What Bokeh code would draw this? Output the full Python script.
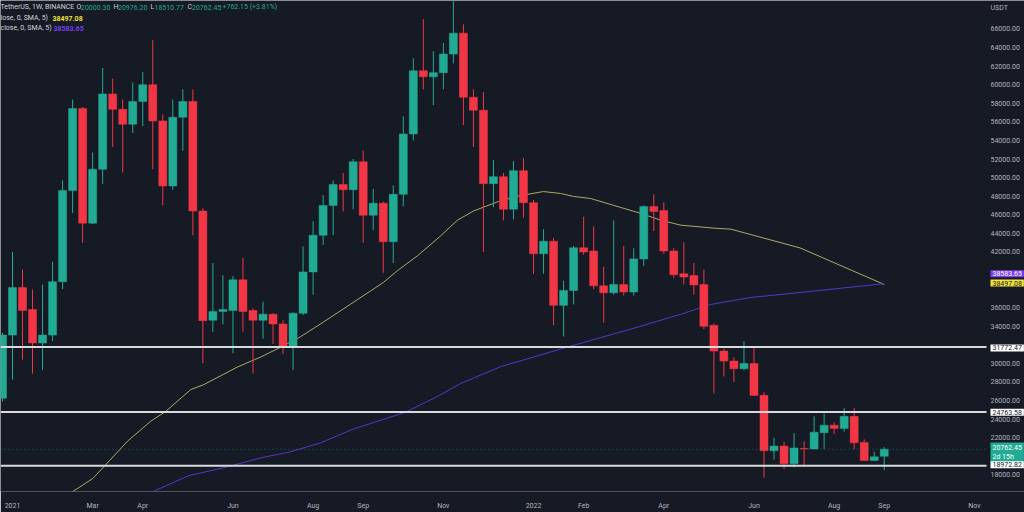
import pandas as pd
from bokeh.plotting import figure
from bokeh.models import Range1d, FixedTicker, Label, ColumnDataSource
from bokeh.core.properties import value
from bokeh.embed import file_html
from bokeh.resources import INLINE

# ---------------- data (BTCUSDT weekly) ----------------
first_week = "2020-12-28"
opens = [26250, 33050, 38160, 35800, 32200, 33050, 38800, 48600, 57450, 45100,
         50900, 59000, 57350, 55750, 58200, 60000, 56100, 49100, 56500, 58200,
         46400, 34650, 35600, 35700, 39000, 35700, 34650, 35300, 34250, 31800,
         35400, 39850, 43800, 47000, 49250, 48700, 51700, 45950, 47250, 43100,
         48200, 54700, 61500, 60850, 61300, 63300, 65550, 58650, 57250, 49350,
         50100, 46600, 50750, 47300, 41800, 43150, 36250, 37850, 42450, 42100,
         38350, 37600, 38500, 37700, 41250, 46900, 46450, 42100, 39650, 39450,
         38500, 34100, 31330, 30260, 29420, 30000, 26560, 20600, 21100, 19200,
         20850, 20800, 22550, 23350, 23000, 24300, 21500, 19550, 20000.30]
highs = [33300, 42000, 40100, 37950, 38500, 40950, 49700, 58400, 57600, 52700,
         61800, 60650, 58400, 60250, 61350, 64800, 56800, 58400, 59500, 59500,
         46700, 40800, 39500, 39400, 41350, 35900, 36650, 35400, 34650, 35500,
         42600, 45300, 48100, 49700, 50500, 52000, 52900, 48800, 47400, 49150,
         56600, 62850, 67050, 63600, 64500, 69000, 66500, 59500, 59200, 51900,
         50500, 51800, 52100, 47600, 44450, 43500, 38900, 42650, 45800, 44750,
         40400, 45400, 42650, 42400, 47000, 48200, 47350, 42400, 43050, 40800,
         40100, 34300, 31600, 30650, 32400, 31700, 26900, 22000, 21550, 22500,
         21600, 24300, 24600, 23650, 25200, 25200, 21820, 20500, 20976.20]
lows = [25900, 28250, 30400, 28900, 29300, 32400, 38000, 46200, 43000, 45000,
        49300, 53300, 50550, 54800, 55550, 50900, 47000, 48700, 52900, 43800,
        30000, 33400, 34200, 31100, 33400, 28900, 32650, 32100, 31000, 29300,
        35200, 37400, 42750, 43800, 46350, 46600, 43000, 44350, 39750, 40800,
        46900, 54000, 59500, 57800, 59500, 62300, 55650, 53300, 42000, 46800,
        45400, 45500, 45700, 39650, 39650, 34100, 32900, 36350, 41700, 38000,
        34400, 37400, 37300, 37300, 40500, 44250, 41800, 39200, 38500, 37400,
        33700, 26750, 28600, 28000, 29300, 26500, 17700, 19640, 18650, 18800,
        19000, 20750, 20800, 22400, 22650, 20760, 19520, 19520, 18510.77]
closes = [33050, 38160, 35700, 32200, 33050, 38800, 48600, 57450, 45100, 50900,
          59000, 57350, 55750, 58200, 60000, 56100, 49100, 56500, 58200, 46400,
          34600, 35600, 35800, 39000, 35600, 34650, 35300, 34250, 31800, 35400,
          39850, 43800, 47000, 49250, 48700, 51700, 45950, 47250, 43100, 48200,
          54700, 61500, 60850, 61300, 63300, 65550, 58650, 57250, 49350, 50100,
          46600, 50750, 47300, 41800, 43150, 36250, 37850, 42450, 42000, 38350,
          37600, 38500, 37700, 41250, 46900, 46350, 42100, 39550, 39300, 38450,
          34000, 31330, 30260, 29420, 30000, 26550, 20600, 21100, 19200, 20900,
          20800, 22600, 23350, 23000, 24300, 21450, 19550, 19950, 20762.45]

# moving averages (week index from 2021-01-04, value)
sma_yellow_week = [6.0, 8.0, 9.3, 11.5, 13.8, 15.3, 17.0, 17.8, 19.1, 22.5, 24.8, 26.6,
                   28.7, 31.0, 33.7, 37.0, 38.4, 40.4, 42.7, 44.4, 46.0, 48.5, 50.7,
                   53.0, 54.7, 56.0, 57.7, 60.0, 62.7, 64.7, 66.7, 70.0, 71.7, 78.6, 87.0]
sma_yellow_val = [16200, 17600, 19090, 21650, 23780, 24840, 26440, 27190, 27720, 29640,
                  30700, 31660, 32840, 34430, 36350, 38700, 39970, 41570, 43700, 45410,
                  46400, 47430, 48070, 48500, 48290, 47970, 47750, 47010, 46150, 45410,
                  44880, 44560, 44450, 42430, 38497.08]
sma_purple_week = [14.0, 17.6, 21.5, 24.8, 27.7, 30.7, 34.0, 39.2, 42.4, 44.7, 48.7,
                   55.4, 61.7, 66.7, 69.7, 73.7, 78.6, 87.0]
sma_purple_val = [16200, 17920, 18880, 19840, 20480, 21430, 22930, 24740, 26440, 27830,
                  29640, 31770, 33690, 35290, 36350, 37100, 37630, 38583.65]

levels = [31772.47, 24763.58, 18972.82]
last_price = 20762.45

tick_dates = ["2021-01-04", "2021-03-01", "2021-04-05", "2021-06-07", "2021-08-02",
              "2021-09-06", "2021-11-01", "2022-01-03", "2022-02-07", "2022-04-04",
              "2022-06-06", "2022-08-01", "2022-09-05", "2022-11-07"]
tick_labels = ["2021", "Mar", "Apr", "Jun", "Aug", "Sep", "Nov", "2022", "Feb", "Apr",
               "Jun", "Aug", "Sep", "Nov"]
price_ticks = [18000, 22000, 24000, 26000, 28000, 30000, 34000, 36000, 42000, 44000,
               46000, 48000, 50000, 52000, 54000, 56000, 58000, 60000, 62000, 64000, 66000]

# ---------------- styling ----------------
BG = "#161a25"
UP = "#22ab94"
DOWN = "#f23645"
TXT = "#b2b5be"
YEL = "#f2e33a"
PUR = "#7b3ff2"
FONT = "Roboto"

ref = pd.Timestamp("2021-01-04")
weeks = pd.date_range(first_week, periods=len(opens), freq="7D")
widx = [(d - ref).days / 7 for d in weeks]
colors = [UP if c >= o else DOWN for o, c in zip(opens, closes)]
src = ColumnDataSource(dict(
    x=widx, o=opens, h=highs, l=lows, c=closes,
    top=[max(o, c) for o, c in zip(opens, closes)],
    bot=[min(o, c) for o, c in zip(opens, closes)],
    col=colors))

# frame spans the whole width; the price scale lives in its right-most strip
FW, FH = 1024, 496
PX_PER_WEEK = 10.02
PX_PER_USD = 0.009385
X0 = -12 / PX_PER_WEEK
X1 = X0 + FW / PX_PER_WEEK
Y1 = 36000 + 310.3 / PX_PER_USD
Y0 = Y1 - FH / PX_PER_USD


def dx(px):
    return X0 + px / PX_PER_WEEK


def dy(py):
    return Y1 - py / PX_PER_USD


SCALE_X = dx(990)     # left edge of price-scale texts
LINE_END = dx(986)    # horizontal rays stop at the price scale

p = figure(width=1024, height=512, output_backend="svg", toolbar_location=None,
           x_range=Range1d(X0, X1), y_range=Range1d(Y0, Y1), y_axis_location=None,
           min_border_left=0, min_border_top=0, min_border_right=0, min_border_bottom=16,
           background_fill_color=BG, border_fill_color=BG, outline_line_color=None)
p.grid.visible = False

# time axis
p.xaxis.ticker = FixedTicker(ticks=[(pd.Timestamp(d) - ref).days / 7 for d in tick_dates])
p.xaxis.major_label_overrides = {(pd.Timestamp(d) - ref).days / 7: t
                                 for d, t in zip(tick_dates, tick_labels)}
p.xaxis.axis_line_color = None
p.xaxis.major_tick_line_color = None
p.xaxis.minor_tick_line_color = None
p.xaxis.major_label_text_color = TXT
p.xaxis.major_label_text_font = FONT
p.xaxis.major_label_text_font_size = "7px"
p.xaxis.major_label_standoff = 4

# price scale tick labels
p.text(x=[SCALE_X] * len(price_ticks), y=price_ticks,
       text=[f"{v:.2f}" for v in price_ticks], text_color=TXT,
       text_font=value(FONT), text_font_size="7px", text_baseline="middle",
       text_align="left")

# moving averages
p.line(sma_yellow_week, sma_yellow_val, line_color="#aeaa60", line_width=1)
p.line(sma_purple_week, sma_purple_val, line_color="#5238c8", line_width=1)

# candles
p.segment(x0="x", x1="x", y0="l", y1="h", line_color="col", line_width=1, source=src)
p.vbar(x="x", width=0.8, top="top", bottom="bot", fill_color="col", line_color="col",
       line_width=0.5, source=src)

# horizontal levels
p.segment(x0=[X0] * len(levels), x1=[LINE_END] * len(levels), y0=levels, y1=levels,
          line_color="#d8dade", line_width=2)
p.segment(x0=[X0], x1=[LINE_END], y0=[last_price], y1=[last_price], line_color=UP,
          line_alpha=0.55, line_width=1, line_dash="1 3")


# price-scale tags
def tag(py, text, bg, fg):
    p.add_layout(Label(x=SCALE_X, y=dy(py), text=text, text_font=FONT,
                       text_font_size="7px", text_color=fg, text_baseline="middle",
                       text_align="left", background_fill_color=bg,
                       background_fill_alpha=1.0, padding=(2, 1)))


tag(276, "38583.65", PUR, "#ffffff")
tag(285.5, "38497.08", YEL, "#131722")
tag(351, "31772.47", "#ffffff", "#131722")
tag(416, "24763.58", "#ffffff", "#131722")
tag(456.5, "20762.45\n2d 15h", UP, "#ffffff")
tag(469, "18972.82", "#ffffff", "#131722")
p.add_layout(Label(x=SCALE_X, y=dy(8), text="USDT", text_font=FONT, text_font_size="7px",
                   text_color=TXT, text_baseline="middle", text_align="left"))


# legend texts (top-left)
def txt(px, py, text, color, bold=False):
    p.add_layout(Label(x=dx(px), y=dy(py), text=text, text_font=FONT, text_font_size="7px",
                       text_color=color, text_baseline="middle", text_align="left",
                       text_font_style="bold" if bold else "normal"))


txt(0, 7, "TetherUS, 1W, BINANCE", "#d1d4dc")
txt(76, 7, "O", "#d1d4dc"); txt(80.5, 7, f"{opens[-1]:.2f}", UP)
txt(113, 7, "H", "#d1d4dc"); txt(117.5, 7, f"{highs[-1]:.2f}", UP)
txt(150, 7, "L", "#d1d4dc"); txt(154, 7, f"{lows[-1]:.2f}", UP)
txt(187, 7, "C", "#d1d4dc"); txt(191.5, 7, f"{closes[-1]:.2f}", UP)
txt(222, 7, "+762.15 (+3.81%)", UP)
txt(0, 18, "lose, 0, SMA, 5)", "#d1d4dc"); txt(52, 18, "38497.08", YEL, True)
txt(0, 28, "close, 0, SMA, 5)", "#d1d4dc"); txt(53, 28, "38583.65", PUR, True)

open("out.html", "w").write(file_html(p, INLINE))
